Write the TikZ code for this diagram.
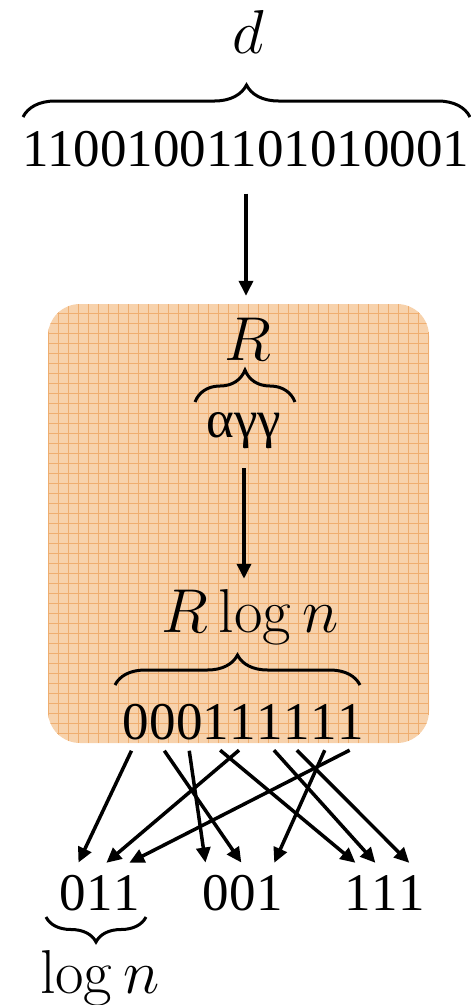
\RequirePackage{fix-cm}
\documentclass[tikz,border=0pt]{standalone}
\usepackage[no-math]{fontspec}
\setmainfont{Liberation Serif}
\newfontfamily\tnrfont{Liberation Serif}
\usetikzlibrary{arrows.meta,decorations.pathreplacing}
\definecolor{boxfill}{HTML}{F7D2AC}
\definecolor{gridline}{HTML}{EFAE70}
\begin{document}
\begin{tikzpicture}[x=1pt,y=-1pt,
  dig/.style={inner sep=0pt, font=\tnrfont\fontsize{53}{60}\selectfont},
  mth/.style={inner sep=0pt, font=\fontsize{62}{70}\selectfont},
  arr/.style={line width=3.5pt, -{Triangle[length=15pt,width=14pt]}},
  brc/.style={decorate, decoration={brace, amplitude=#1}, line width=3pt},
  panel/.style={rounded corners=32pt, fill=boxfill, inner sep=0pt,
    path picture={\draw[gridline, line width=1.2pt, step=10pt]
      (path picture bounding box.south west) grid (path picture bounding box.north east);}},
]
\useasboundingbox (0,0) rectangle (471,1005);
% orange panel
\node[panel, minimum width=381pt, minimum height=439pt] (box) at (238.5,523.5) {};
% top
\node[mth, anchor=base] (d) at (248,53) {$d$};
\draw[brc=32pt] (23,117) -- (470,117);
\node[dig, anchor=base] (top) at (246,166) {11001001101010001};
\draw[arr, shorten <=27pt, shorten >=8pt] (top.south) -- (top.south |- box.north);
% inside panel
\node[mth, anchor=base] (R) at (248,360) {$R$};
\draw[brc=32pt] (195,402) -- (295,402);
\node[dig, anchor=base] (agg) at (244,437) {αγγ};
\node[mth, anchor=base] (Rlog) at (250,632) {$R\log n$};
\draw[arr, shorten <=20pt, shorten >=10pt] (agg.south) -- (agg.south |- Rlog.north);
\draw[brc=30pt] (115,685) -- (360,685);
\node[dig, anchor=base west] (s1) at (122,739) {0};
\node[dig, anchor=base west] (s2) at (s1.base east) {0};
\node[dig, anchor=base west] (s3) at (s2.base east) {0};
\node[dig, anchor=base west] (s4) at (s3.base east) {1};
\node[dig, anchor=base west] (s5) at (s4.base east) {1};
\node[dig, anchor=base west] (s6) at (s5.base east) {1};
\node[dig, anchor=base west] (s7) at (s6.base east) {1};
\node[dig, anchor=base west] (s8) at (s7.base east) {1};
\node[dig, anchor=base west] (s9) at (s8.base east) {1};
% bottom words
\node[dig, anchor=base west] (t1) at (59,910) {0};
\node[dig, anchor=base west] (t2) at (t1.base east) {1};
\node[dig, anchor=base west] (t3) at (t2.base east) {1};
\node[dig, anchor=base west] (u1) at (202,910) {0};
\node[dig, anchor=base west] (u2) at (u1.base east) {0};
\node[dig, anchor=base west] (u3) at (u2.base east) {1};
\node[dig, anchor=base west] (v1) at (344,910) {1};
\node[dig, anchor=base west] (v2) at (v1.base east) {1};
\node[dig, anchor=base west] (v3) at (v2.base east) {1};
\draw[brc=25pt] (146,917) -- (46,917);
\node[mth, anchor=base] (logn) at (100,993) {$\log n$};
% arrows
\draw[arr] ([shift={(-4pt,-11pt)}]s1.south) -- ([shift={(6pt,12pt)}]t1.north);
\draw[arr] ([shift={(2pt,-11pt)}]s2.south) -- ([shift={(-1pt,12pt)}]u2.north);
\draw[arr] ([shift={(0pt,-11pt)}]s3.south) -- ([shift={(-10pt,12pt)}]u1.north);
\draw[arr] ([shift={(4pt,-11pt)}]s4.south) -- ([shift={(-2pt,12pt)}]v1.north);
\draw[arr] ([shift={(-4pt,-11pt)}]s5.south) -- ([shift={(7pt,12pt)}]t2.north);
\draw[arr] ([shift={(4pt,-11pt)}]s6.south) -- ([shift={(-9pt,12pt)}]v2.north);
\draw[arr] ([shift={(0pt,-11pt)}]s7.south) -- ([shift={(-2pt,12pt)}]v3.north);
\draw[arr] ([shift={(1pt,-11pt)}]s8.south) -- ([shift={(5pt,12pt)}]u3.north);
\draw[arr] ([shift={(-1pt,-11pt)}]s9.south) -- ([shift={(3pt,12pt)}]t3.north);
\end{tikzpicture}
\end{document}
